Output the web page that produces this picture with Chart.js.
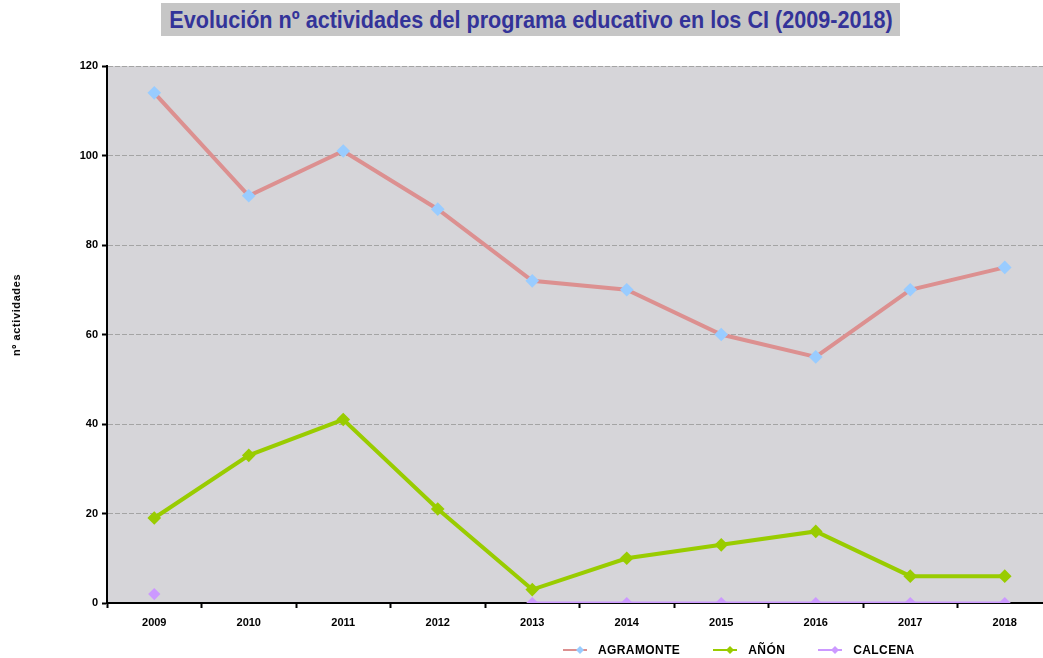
<!DOCTYPE html>
<html>
<head>
<meta charset="utf-8">
<script src="https://cdn.jsdelivr.net/npm/chart.js@4"></script>
<style>
  html, body { margin: 0; padding: 0; background: #fff; overflow: hidden; }
  #wrap { position: relative; width: 1043px; height: 658px; overflow: hidden; }
  #chart { position: absolute; left: 0; top: 0; }
  #title {
    position: absolute; left: 161px; top: 3px; width: 739px; height: 33px;
    background: #c6c6c6; overflow: hidden;
  }
  #title span {
    position: absolute; left: 50%; top: 0;
    transform: translateX(-50%) scaleX(0.9);
    color: #333399;
    font-family: "Liberation Sans", Arial, sans-serif;
    font-weight: bold; font-size: 24px; line-height: 33px;
    white-space: nowrap;
  }
  #ytitle {
    position: absolute; left: 16px; top: 315px;
    transform: translate(-50%, -50%) rotate(-90deg);
    font-family: "Liberation Sans", Arial, sans-serif; font-weight: bold; font-size: 11px;
    letter-spacing: 0.6px; white-space: nowrap; color: #000;
  }
  #legend {
    position: absolute; left: 563px; top: 642px; height: 16px;
    font-family: "Liberation Sans", Arial, sans-serif; font-weight: bold; font-size: 12px;
    letter-spacing: 0.4px;
    display: flex; align-items: center; white-space: nowrap;
  }
  .item { display: flex; align-items: center; margin-right: 33px; }
  .item canvas { margin-right: 11px; }
</style>
</head>
<body>
<div id="wrap">
  <canvas id="chart" width="1062" height="658"></canvas>
  <div id="title"><span>Evolución nº actividades del programa educativo en los CI (2009-2018)</span></div>
  <div id="ytitle">nº actividades</div>
  <div id="legend"></div>
</div>
<script>
const years = ['2009', '2010', '2011', '2012', '2013', '2014', '2015', '2016', '2017', '2018'];
const agramonte = [114, 91, 101, 88, 72, 70, 60, 55, 70, 75];
const anon = [19, 33, 41, 21, 3, 10, 13, 16, 6, 6];
const calcena = [2, null, null, null, 0, 0, 0, 0, 0, 0];
const yTicks = [0, 20, 40, 60, 80, 100, 120];

// fondo gris del area de trazado
const plotBg = {
    id: 'plotBg',
    beforeDraw(chart) {
        const a = chart.chartArea;
        const c = chart.ctx;
        c.save();
        c.fillStyle = '#d6d5d9';
        c.fillRect(a.left, a.top, a.right - a.left, a.bottom - a.top);
        c.restore();
    }
};

const ctx = document.getElementById('chart').getContext('2d');
const chart = new Chart(ctx, {
    type: 'line',
    data: {
        labels: years,
        datasets: [
            {
                label: 'AGRAMONTE',
                data: agramonte,
                borderColor: '#dc9090',
                backgroundColor: '#99ccff',
                pointBackgroundColor: '#99ccff',
                pointBorderColor: '#99ccff',
                pointStyle: 'rectRot',
                pointRadius: 4,
                borderWidth: 4,
                tension: 0
            },
            {
                label: 'AÑÓN',
                data: anon,
                borderColor: '#99cc00',
                backgroundColor: '#99cc00',
                pointBackgroundColor: '#99cc00',
                pointBorderColor: '#99cc00',
                pointStyle: 'rectRot',
                pointRadius: 4,
                borderWidth: 4,
                tension: 0
            },
            {
                label: 'CALCENA',
                data: calcena,
                borderColor: '#cc99ff',
                backgroundColor: '#cc99ff',
                pointBackgroundColor: '#cc99ff',
                pointBorderColor: '#cc99ff',
                pointStyle: 'rectRot',
                pointRadius: 4,
                borderWidth: 3,
                tension: 0,
                spanGaps: false
            }
        ]
    },
    options: {
        responsive: false,
        animation: false,
        layout: {
            padding: { top: 66, bottom: 13, left: 0, right: 10 }
        },
        plugins: {
            legend: { display: false },
            tooltip: { enabled: false }
        },
        scales: {
            x: {
                offset: true,
                grid: {
                    offset: true,
                    drawOnChartArea: false,
                    drawTicks: true,
                    tickLength: 5,
                    tickColor: '#000',
                    tickWidth: 2
                },
                border: { color: '#000', width: 2 },
                ticks: {
                    color: '#000',
                    padding: 8,
                    font: { family: 'Liberation Sans', weight: 'bold', size: 11 }
                },
                afterFit(scale) { scale.height = 42; }
            },
            y: {
                min: 0,
                max: 120,
                afterBuildTicks(scale) { scale.ticks = yTicks.map(v => ({ value: v })); },
                grid: {
                    color: '#a4a4a4',
                    lineWidth: 1,
                    tickColor: '#000',
                    tickLength: 5,
                    tickWidth: 2,
                    drawTicks: true
                },
                border: { color: '#000', width: 2, dash: [5, 2] },
                ticks: {
                    color: '#000',
                    padding: 4,
                    font: { family: 'Liberation Sans', weight: 'bold', size: 11 }
                },
                afterFit(scale) { scale.width = 107; }
            }
        }
    },
    plugins: [plotBg]
});

// leyenda
const legend = document.getElementById('legend');
chart.data.datasets.forEach(ds => {
    const item = document.createElement('div');
    item.className = 'item';
    const c = document.createElement('canvas');
    c.width = 24; c.height = 12;
    const g = c.getContext('2d');
    g.strokeStyle = ds.borderColor;
    g.lineWidth = 2;
    g.beginPath(); g.moveTo(0, 6); g.lineTo(24, 6); g.stroke();
    g.fillStyle = ds.pointBackgroundColor;
    g.beginPath(); g.moveTo(17, 2); g.lineTo(21, 6); g.lineTo(17, 10); g.lineTo(13, 6); g.closePath(); g.fill();
    item.appendChild(c);
    const s = document.createElement('span');
    s.textContent = ds.label;
    item.appendChild(s);
    legend.appendChild(item);
});
</script>
</body>
</html>
